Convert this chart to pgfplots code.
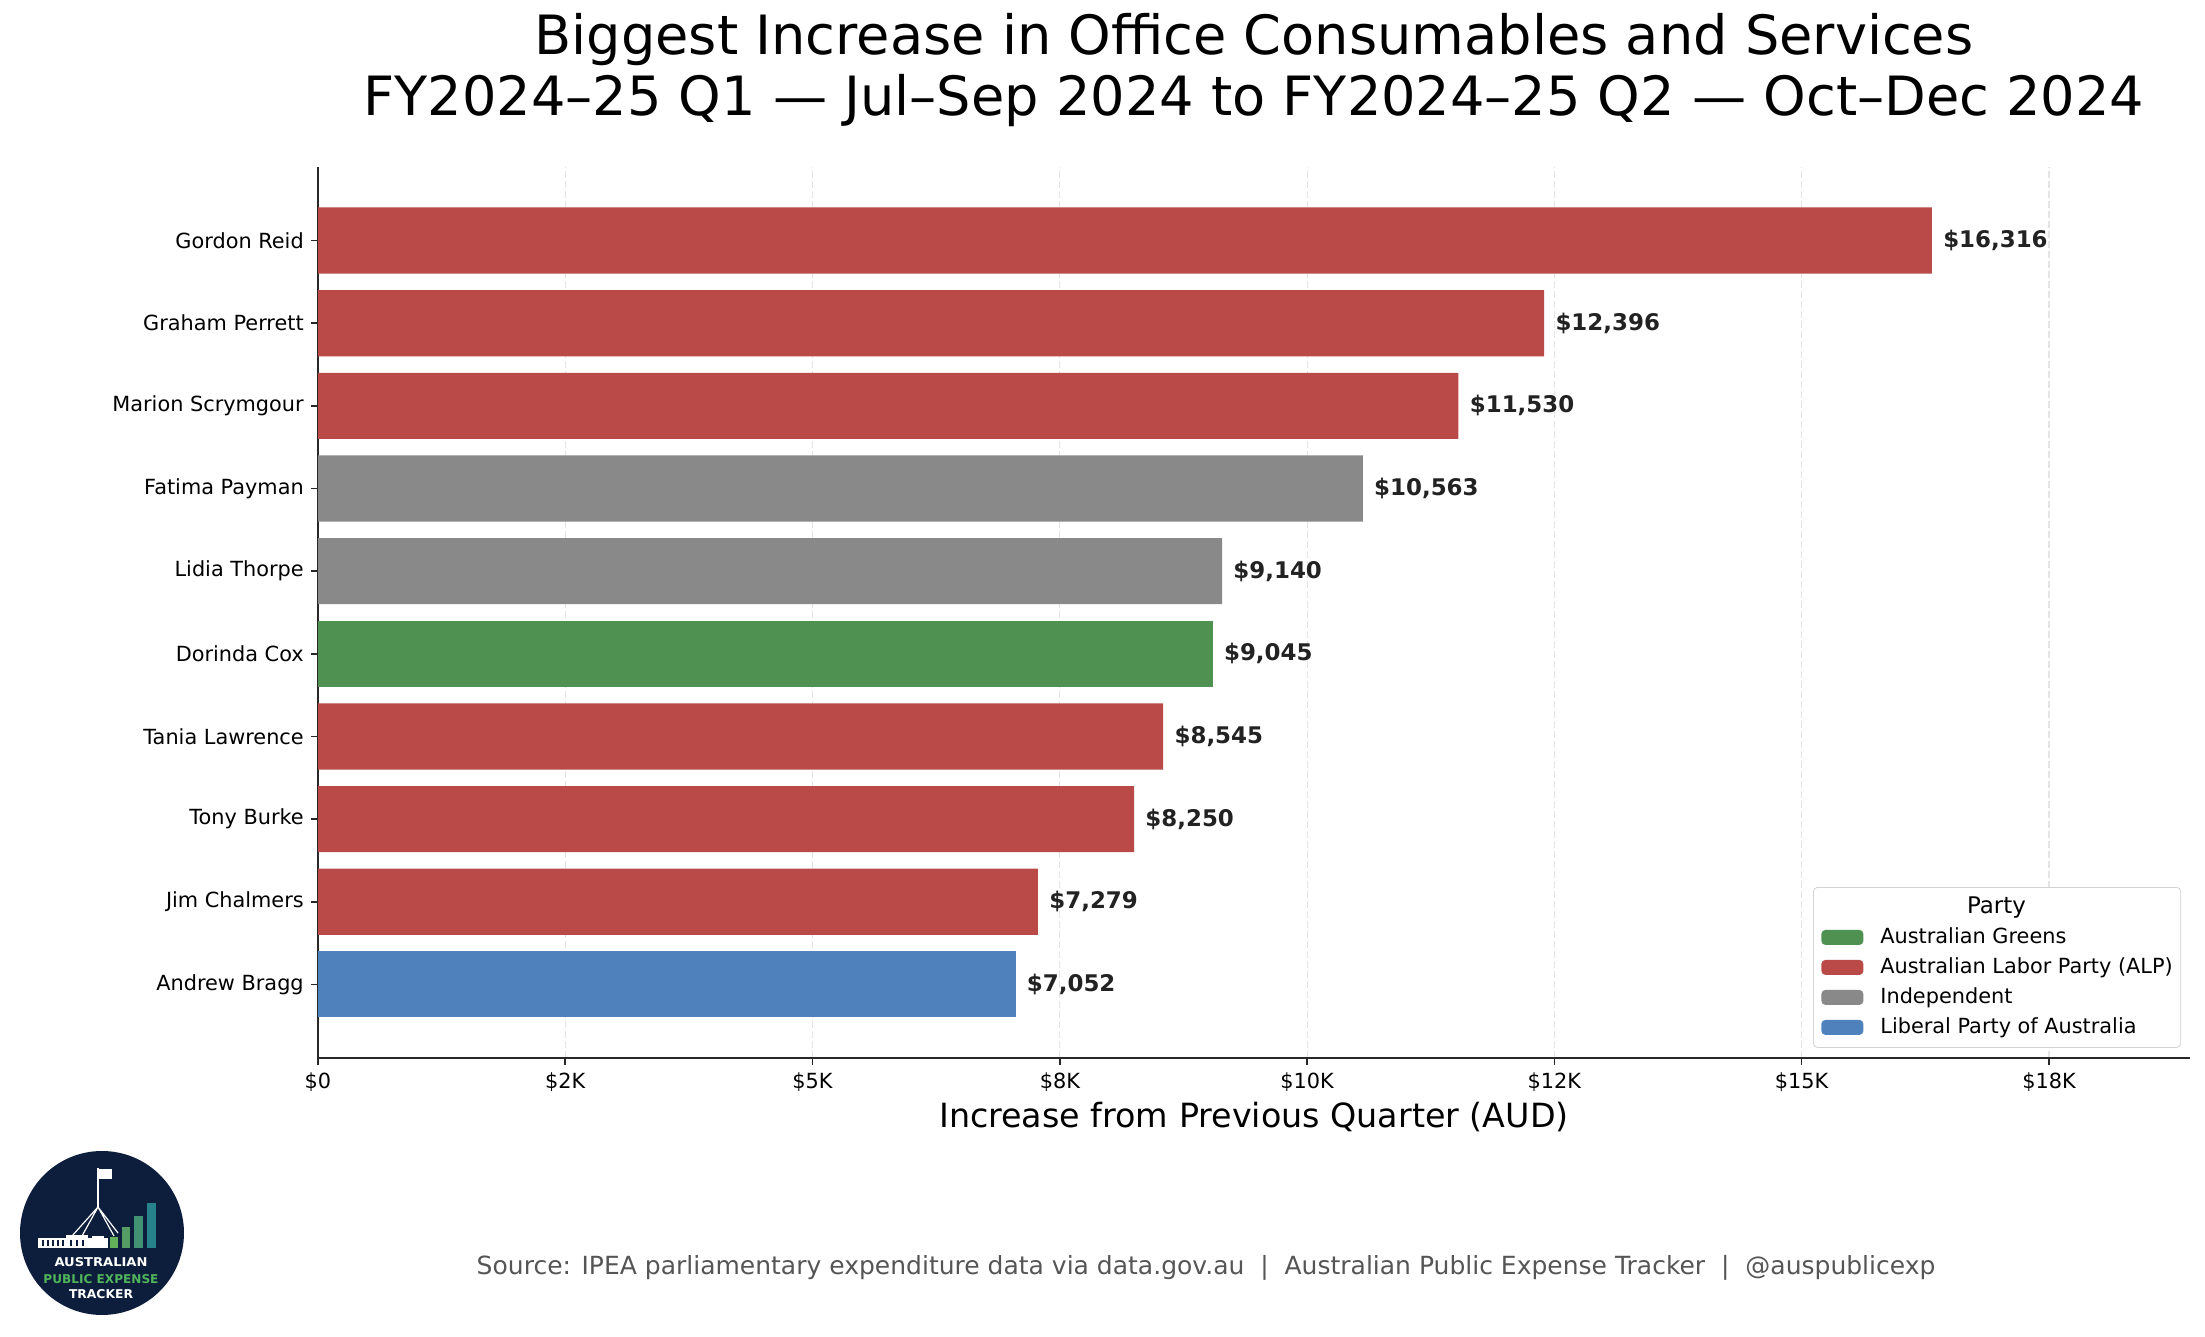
\documentclass[border=0pt]{standalone}
\usepackage{fontspec}
\setmainfont{DejaVu Sans}
\usepackage{pgfplots}
\pgfplotsset{compat=1.18}
\definecolor{alp}{RGB}{185,74,72}
\definecolor{ind}{RGB}{137,137,137}
\definecolor{grn}{RGB}{79,145,80}
\definecolor{lib}{RGB}{79,129,189}
\definecolor{spine}{RGB}{40,40,40}
\definecolor{labc}{RGB}{34,34,34}
\definecolor{navy}{RGB}{12,30,60}
\definecolor{srcgray}{RGB}{85,85,85}
\definecolor{gridc}{RGB}{228,228,228}
\definecolor{legedge}{RGB}{210,210,210}
\definecolor{lb1}{RGB}{100,175,90}
\definecolor{lb2}{RGB}{85,155,100}
\definecolor{lb3}{RGB}{65,145,115}
\definecolor{lb4}{RGB}{40,130,140}
\definecolor{lgreen}{RGB}{80,180,90}
\begin{document}
\begin{tikzpicture}
\useasboundingbox (0,0) rectangle (1102.5pt,668.5pt);
\begin{axis}[
  at={(159pt,139.5pt)}, anchor=south west,
  scale only axis, width=936pt, height=445.5pt,
  xbar, bar shift=0pt, bar width=0.8,
  xmin=0, xmax=18926, ymin=-0.89, ymax=9.89,
  axis x line*=bottom, axis y line*=left,
  axis line style={spine, line width=0.8pt, -},
  scaled x ticks=false,
  xtick={0,2500,5000,7500,10000,12500,15000,17500},
  xticklabels={\$0,\$2K,\$5K,\$8K,\$10K,\$12K,\$15K,\$18K},
  ytick={0,1,2,3,4,5,6,7,8,9},
  yticklabels={Andrew Bragg,Jim Chalmers,Tony Burke,Tania Lawrence,Dorinda Cox,Lidia Thorpe,Fatima Payman,Marion Scrymgour,Graham Perrett,Gordon Reid},
  tick align=outside, major tick length=3.6pt,
  tick style={spine, line width=0.8pt},
  xticklabel style={font=\fontsize{10.42}{12.5}\selectfont},
  yticklabel style={font=\fontsize{10.42}{12.5}\selectfont},
  xmajorgrids, major grid style={gridc, line width=0.6pt, dash pattern=on 3.5pt off 1.5pt},
  xlabel={Increase from Previous Quarter (AUD)},
  xlabel style={font=\fontsize{16.67}{20}\selectfont, at={(axis description cs:0.5,0)}, anchor=base, yshift=-35pt},
  point meta=x,
  nodes near coords={\$\pgfmathprintnumber[fixed,precision=0,1000 sep={,},assume math mode=true]{\pgfplotspointmeta}},
  every node near coord/.append style={font=\bfseries\fontsize{11.46}{13.5}\selectfont, color=labc, anchor=west, inner sep=0pt, xshift=5.5pt},
  legend image code/.code={\fill[#1] (0pt,-3.75pt) rectangle (21pt,3.75pt);},
  legend style={at={(rel axis cs:0.7986,0.1919)}, anchor=north west,
    draw=legedge, rounded corners=2pt, fill=white,
    inner xsep=4pt, inner ysep=4.5pt,
    font=\fontsize{10.42}{12.5}\selectfont, row sep=4pt,
    nodes={inner sep=0pt, text height=8.5pt, text depth=2.5pt},
    cells={anchor=west},
    /tikz/every odd column/.append style={column sep=8.5pt}},
]
\addlegendimage{empty legend}
\addlegendentry{\hspace*{43.3pt}\fontsize{11.46}{13.5}\selectfont Party}
\addplot[fill=grn, draw=none] coordinates {(9045,4)};
\addlegendentry{Australian Greens}
\addplot[fill=alp, draw=none] coordinates {(16316,9) (12396,8) (11530,7) (8545,3) (8250,2) (7279,1)};
\addlegendentry{Australian Labor Party (ALP)}
\addplot[fill=ind, draw=none] coordinates {(10563,6) (9140,5)};
\addlegendentry{Independent}
\addplot[fill=lib, draw=none] coordinates {(7052,0)};
\addlegendentry{Liberal Party of Australia}
\end{axis}
% titles
\node[anchor=base, font=\fontsize{27.08}{32}\selectfont] at (627pt,641pt) {Biggest Increase in Office Consumables and Services};
\node[anchor=base, font=\fontsize{27.08}{32}\selectfont] at (627pt,610.5pt) {FY2024–25 Q1 — Jul–Sep 2024 to FY2024–25 Q2 — Oct–Dec 2024};
% source
\node[anchor=base, font=\fontsize{12.5}{15}\selectfont, text=srcgray] at (603pt,31pt) {Source: IPEA parliamentary expenditure data via data.gov.au\ \ |\ \ Australian Public Expense Tracker\ \ |\ \ @auspublicexp};
% logo
\begin{scope}[x=0.5pt,y=0.5pt]
\fill[navy] (102,104) circle (82);
\draw[white, line width=1pt] (98,130) -- (98,169);
\fill[white] (99,158) rectangle (112,168);
\draw[white, line width=0.6pt] (98,130) -- (72,101) (98,130) -- (82,101) (98,130) -- (114,101) (98,130) -- (118,104);
\fill[white] (38,89) rectangle (108,99);
\fill[white] (66,99) rectangle (88,102);
\foreach \xx in {42,47,52,57,62,70,76,82}{\fill[navy] (\xx,91) rectangle (\xx+2,97);}
\fill[white] (92,97) rectangle (104,101);
\fill[lb1] (110,89) rectangle (118,100);
\fill[lb2] (122,89) rectangle (130,110);
\fill[lb3] (134,89) rectangle (143,121);
\fill[lb4] (147,89) rectangle (156,134);
\node[anchor=base, text=white, inner sep=0pt] at (101,70) {\resizebox{46.5pt}{4.5pt}{\bfseries AUSTRALIAN}};
\node[anchor=base, text=lgreen, inner sep=0pt] at (101,53) {\resizebox{57.5pt}{4.5pt}{\bfseries PUBLIC EXPENSE}};
\node[anchor=base, text=white, inner sep=0pt] at (101,38) {\resizebox{32pt}{4.5pt}{\bfseries TRACKER}};
\end{scope}
\end{tikzpicture}
\end{document}
